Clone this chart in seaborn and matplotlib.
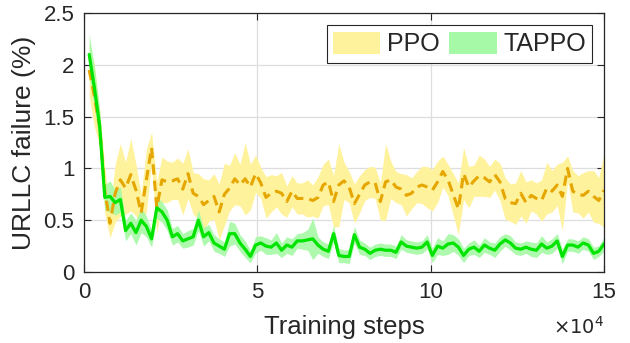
import matplotlib
matplotlib.use("Agg")
import matplotlib.pyplot as plt
from matplotlib.patches import Patch
import numpy as np
import pandas as pd
import seaborn as sns

# Training steps at which the policies were evaluated
steps = list(range(1500, 150001, 1500))

ppo_mean = [
    1.95, 1.70, 1.40, 0.79, 0.47, 0.76, 0.89, 0.81, 0.94, 0.79,
    0.57, 0.89, 1.20, 0.62, 0.89, 0.87, 0.88, 0.90, 0.80, 0.95,
    0.76, 0.73, 0.65, 0.69, 0.73, 0.58, 0.75, 0.81, 0.90, 0.84,
    0.90, 0.82, 0.95, 0.86, 0.72, 0.76, 0.78, 0.76, 0.68, 0.78,
    0.71, 0.71, 0.71, 0.69, 0.72, 0.84, 0.87, 0.68, 0.84, 0.88,
    0.82, 0.66, 0.75, 0.84, 0.87, 0.86, 0.68, 0.87, 0.89, 0.82,
    0.80, 0.74, 0.76, 0.82, 0.84, 0.82, 0.79, 0.87, 0.97, 0.89,
    0.75, 0.61, 0.95, 0.82, 0.88, 0.93, 0.91, 0.87, 0.94, 0.87,
    0.71, 0.67, 0.66, 0.76, 0.67, 0.74, 0.71, 0.69, 0.81, 0.78,
    0.84, 0.73, 1.00, 0.78, 0.75, 0.74, 0.78, 0.73, 0.69, 0.79,
]
ppo_spread = [
    0.25, 0.30, 0.18, 0.22, 0.14, 0.28, 0.35, 0.25, 0.35, 0.25,
    0.18, 0.30, 0.15, 0.25, 0.22, 0.20, 0.18, 0.20, 0.25, 0.24,
    0.20, 0.22, 0.25, 0.20, 0.22, 0.27, 0.30, 0.22, 0.25, 0.20,
    0.35, 0.22, 0.18, 0.15, 0.20, 0.18, 0.15, 0.20, 0.15, 0.15,
    0.15, 0.15, 0.18, 0.15, 0.20, 0.20, 0.22, 0.25, 0.40, 0.18,
    0.15, 0.19, 0.18, 0.15, 0.15, 0.15, 0.18, 0.37, 0.18, 0.15,
    0.15, 0.20, 0.15, 0.15, 0.18, 0.20, 0.20, 0.20, 0.15, 0.15,
    0.20, 0.25, 0.25, 0.20, 0.15, 0.20, 0.18, 0.15, 0.15, 0.18,
    0.20, 0.18, 0.20, 0.22, 0.20, 0.15, 0.15, 0.20, 0.25, 0.20,
    0.20, 0.33, 0.12, 0.20, 0.18, 0.22, 0.20, 0.25, 0.22, 0.36,
]

tappo_mean = [
    2.10, 1.78, 1.42, 0.72, 0.73, 0.67, 0.70, 0.40, 0.47, 0.38,
    0.50, 0.44, 0.32, 0.62, 0.58, 0.50, 0.34, 0.37, 0.30, 0.32,
    0.34, 0.50, 0.34, 0.38, 0.28, 0.25, 0.22, 0.37, 0.37, 0.28,
    0.22, 0.15, 0.26, 0.28, 0.25, 0.24, 0.28, 0.21, 0.26, 0.24,
    0.30, 0.30, 0.31, 0.32, 0.26, 0.22, 0.20, 0.37, 0.16, 0.15,
    0.15, 0.36, 0.24, 0.22, 0.18, 0.21, 0.22, 0.21, 0.21, 0.19,
    0.29, 0.25, 0.24, 0.23, 0.24, 0.29, 0.16, 0.25, 0.23, 0.27,
    0.28, 0.24, 0.16, 0.22, 0.24, 0.20, 0.26, 0.23, 0.21, 0.27,
    0.31, 0.28, 0.23, 0.22, 0.24, 0.22, 0.21, 0.27, 0.23, 0.25,
    0.30, 0.15, 0.26, 0.26, 0.24, 0.28, 0.26, 0.18, 0.20, 0.27,
]
tappo_spread = [
    0.20, 0.20, 0.15, 0.12, 0.15, 0.12, 0.12, 0.10, 0.10, 0.12,
    0.12, 0.10, 0.08, 0.10, 0.10, 0.10, 0.08, 0.08, 0.07, 0.08,
    0.08, 0.10, 0.09, 0.08, 0.08, 0.07, 0.07, 0.12, 0.10, 0.08,
    0.08, 0.06, 0.08, 0.07, 0.08, 0.07, 0.10, 0.07, 0.08, 0.08,
    0.07, 0.08, 0.10, 0.20, 0.08, 0.07, 0.07, 0.08, 0.07, 0.06,
    0.07, 0.08, 0.07, 0.06, 0.06, 0.06, 0.06, 0.06, 0.06, 0.06,
    0.07, 0.06, 0.06, 0.06, 0.06, 0.07, 0.07, 0.08, 0.07, 0.10,
    0.08, 0.08, 0.07, 0.06, 0.07, 0.06, 0.07, 0.06, 0.07, 0.07,
    0.06, 0.07, 0.06, 0.06, 0.06, 0.07, 0.07, 0.08, 0.06, 0.07,
    0.07, 0.07, 0.06, 0.06, 0.06, 0.06, 0.06, 0.06, 0.05, 0.07,
]

x_ticks = [0, 50000, 100000, 150000]
x_tick_labels = ["0", "5", "10", "15"]
y_ticks = [0, 0.5, 1, 1.5, 2, 2.5]
y_tick_labels = ["0", "0.5", "1", "1.5", "2", "2.5"]

sns.set_theme(style="white")
plt.rcParams["font.family"] = ["Liberation Sans", "DejaVu Sans"]

df = pd.DataFrame({"step": steps, "PPO": ppo_mean, "TAPPO": tappo_mean})
ppo_lo = np.clip(np.array(ppo_mean) - np.array(ppo_spread), 0, None)
ppo_hi = np.array(ppo_mean) + np.array(ppo_spread)
tap_lo = np.clip(np.array(tappo_mean) - np.array(tappo_spread), 0, None)
tap_hi = np.array(tappo_mean) + np.array(tappo_spread)

fig = plt.figure(figsize=(6.3, 3.43), dpi=100)
ax = fig.add_axes([0.1333, 0.207, 0.8254, 0.755])

yellow_fill = "#FFF29C"
green_fill = "#A6F9A6"
orange = "#E6A600"
green = "#00E400"

ax.fill_between(steps, ppo_lo, ppo_hi, color=yellow_fill, lw=0, zorder=2)
ax.fill_between(steps, tap_lo, tap_hi, color=green_fill, lw=0, alpha=0.9, zorder=3)
sns.lineplot(data=df, x="step", y="PPO", ax=ax, color=orange, lw=2.2,
             zorder=4).lines[-1].set_dashes([3.4, 2.0])
sns.lineplot(data=df, x="step", y="TAPPO", ax=ax, color=green, lw=2.3, zorder=5)

ax.set_xlim(0, 150000)
ax.set_ylim(0, 2.5)
ax.set_xticks(x_ticks)
ax.set_xticklabels(x_tick_labels)
ax.set_yticks(y_ticks)
ax.set_yticklabels(y_tick_labels)
ax.grid(True, color="#DEDEDE", lw=0.9, zorder=0)
ax.set_axisbelow(True)

for sp in ax.spines.values():
    sp.set_color("#262626")
    sp.set_linewidth(0.9)
    sp.set_zorder(6)

ax.tick_params(axis="both", direction="in", length=5, width=0.8, color="#262626",
               labelsize=16, labelcolor="#262626", top=True, right=True,
               bottom=True, left=True, pad=7)

ax.set_xlabel("Training steps", fontsize=18.5, color="#262626", labelpad=9)
ax.set_ylabel("URLLC failure (%)", fontsize=19, color="#262626", labelpad=5)
ax.text(1.0, -0.17, r"$\times10^{4}$", transform=ax.transAxes, ha="right",
        va="top", fontsize=14, color="#262626")

handles = [Patch(facecolor=yellow_fill, edgecolor="none", label="PPO"),
           Patch(facecolor=green_fill, edgecolor="none", label="TAPPO")]
leg = ax.legend(handles=handles, loc="upper right", bbox_to_anchor=(0.977, 0.952),
                ncol=2, fontsize=18, frameon=True, fancybox=False, framealpha=1,
                edgecolor="#262626", borderaxespad=0, handlelength=1.9,
                handleheight=1.0, handletextpad=0.25, columnspacing=0.4,
                borderpad=0.25)
leg.get_frame().set_linewidth(0.8)
leg.set_zorder(7)

fig.savefig("out.png", dpi=100)
